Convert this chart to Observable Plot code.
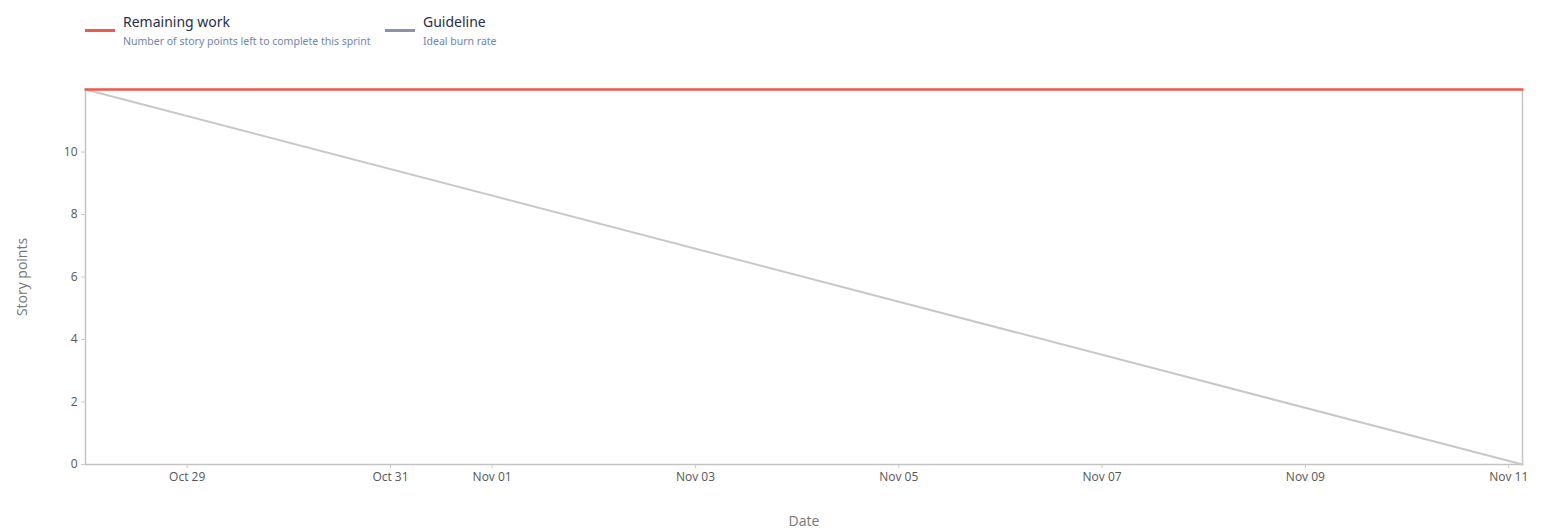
<!DOCTYPE html>
<html>
<head>
<meta charset="utf-8">
<script src="https://cdn.jsdelivr.net/npm/d3@7"></script>
<script src="https://cdn.jsdelivr.net/npm/@observablehq/plot@0.6"></script>
<style>
  body { margin: 0; background: #fff; font-family: "Open Sans", "Noto Sans", sans-serif; }
  #legend { position: relative; height: 60px; width: 1553px; }
  .swatch { position: absolute; width: 30px; height: 3px; }
  .title { font-family: "Noto Sans", sans-serif; font-size: 14px; color: #1f2d4d; position: absolute; white-space: nowrap; top: 12px; }
  .sub { font-family: "Noto Sans", sans-serif; font-size: 10.5px; color: #6e85ad; position: absolute; white-space: nowrap; top: 34px; }
</style>
</head>
<body>
<div id="legend"></div>
<div id="chart"></div>
<script>
const seriesNames = ["Remaining work", "Guideline"];
const seriesDescriptions = ["Number of story points left to complete this sprint", "Ideal burn rate"];
const seriesColors = ["#ef5a50", "#8a93a8"];

const remainingDates = ["2023-10-28T00:00Z", "2023-11-11T03:15Z"];
const remainingValues = [12, 12];
const guideDates = ["2023-10-28T00:00Z", "2023-11-11T03:15Z"];
const guideValues = [12, 0];

const xTickDates = ["2023-10-29", "2023-10-31", "2023-11-01", "2023-11-03", "2023-11-05", "2023-11-07", "2023-11-09", "2023-11-11"];
const yTicks = [0, 2, 4, 6, 8, 10];

const remaining = remainingDates.map((d, i) => ({date: new Date(d), value: remainingValues[i]}));
const guide = guideDates.map((d, i) => ({date: new Date(d), value: guideValues[i]}));

// legend
const legend = document.getElementById("legend");
const legendX = [85, 385];
seriesNames.forEach((name, i) => {
  const x = legendX[i];
  const sw = document.createElement("div");
  sw.className = "swatch"; sw.style.left = x + "px"; sw.style.top = "29px"; sw.style.background = seriesColors[i];
  legend.appendChild(sw);
  const t = document.createElement("div");
  t.className = "title"; t.style.left = (x + 38) + "px"; t.textContent = name;
  legend.appendChild(t);
  const s = document.createElement("div");
  s.className = "sub"; s.style.left = (x + 38) + "px"; s.textContent = seriesDescriptions[i];
  legend.appendChild(s);
});

const xTicks = xTickDates.map(d => new Date(d));
const chart = Plot.plot({
  width: 1553,
  height: 470,
  marginTop: 29,
  marginBottom: 66,
  marginLeft: 85,
  marginRight: 31,
  style: {fontFamily: "'Open Sans', sans-serif", fontSize: "12px", color: "#555", background: "#fff"},
  x: {type: "utc", domain: [remaining[0].date, remaining[1].date]},
  y: {domain: [0, 12]},
  marks: [
    Plot.axisX({ticks: xTicks, tickFormat: d3.utcFormat("%b %d"), stroke: "#ccc", fill: "#555", tickSize: 4, tickPadding: 4, label: null}),
    Plot.axisY({ticks: yTicks, stroke: "#ccc", fill: "#555", tickSize: 4, tickPadding: 4, label: null}),
    Plot.axisX({ticks: [], label: "Date", labelAnchor: "center", labelArrow: "none", labelOffset: 61, fontSize: 14, fill: "#777"}),
    Plot.axisY({ticks: [], label: "Story points", labelAnchor: "center", labelArrow: "none", labelOffset: 68, fontSize: 14, fill: "#777"}),
    Plot.frame({stroke: "#c4c4c4", strokeWidth: 1.5}),
    Plot.line(guide, {x: "date", y: "value", stroke: "#c8c8c8", strokeWidth: 2}),
    Plot.line(remaining, {x: "date", y: "value", stroke: seriesColors[0], strokeWidth: 2.5})
  ]
});
document.getElementById("chart").appendChild(chart);
</script>
</body>
</html>
